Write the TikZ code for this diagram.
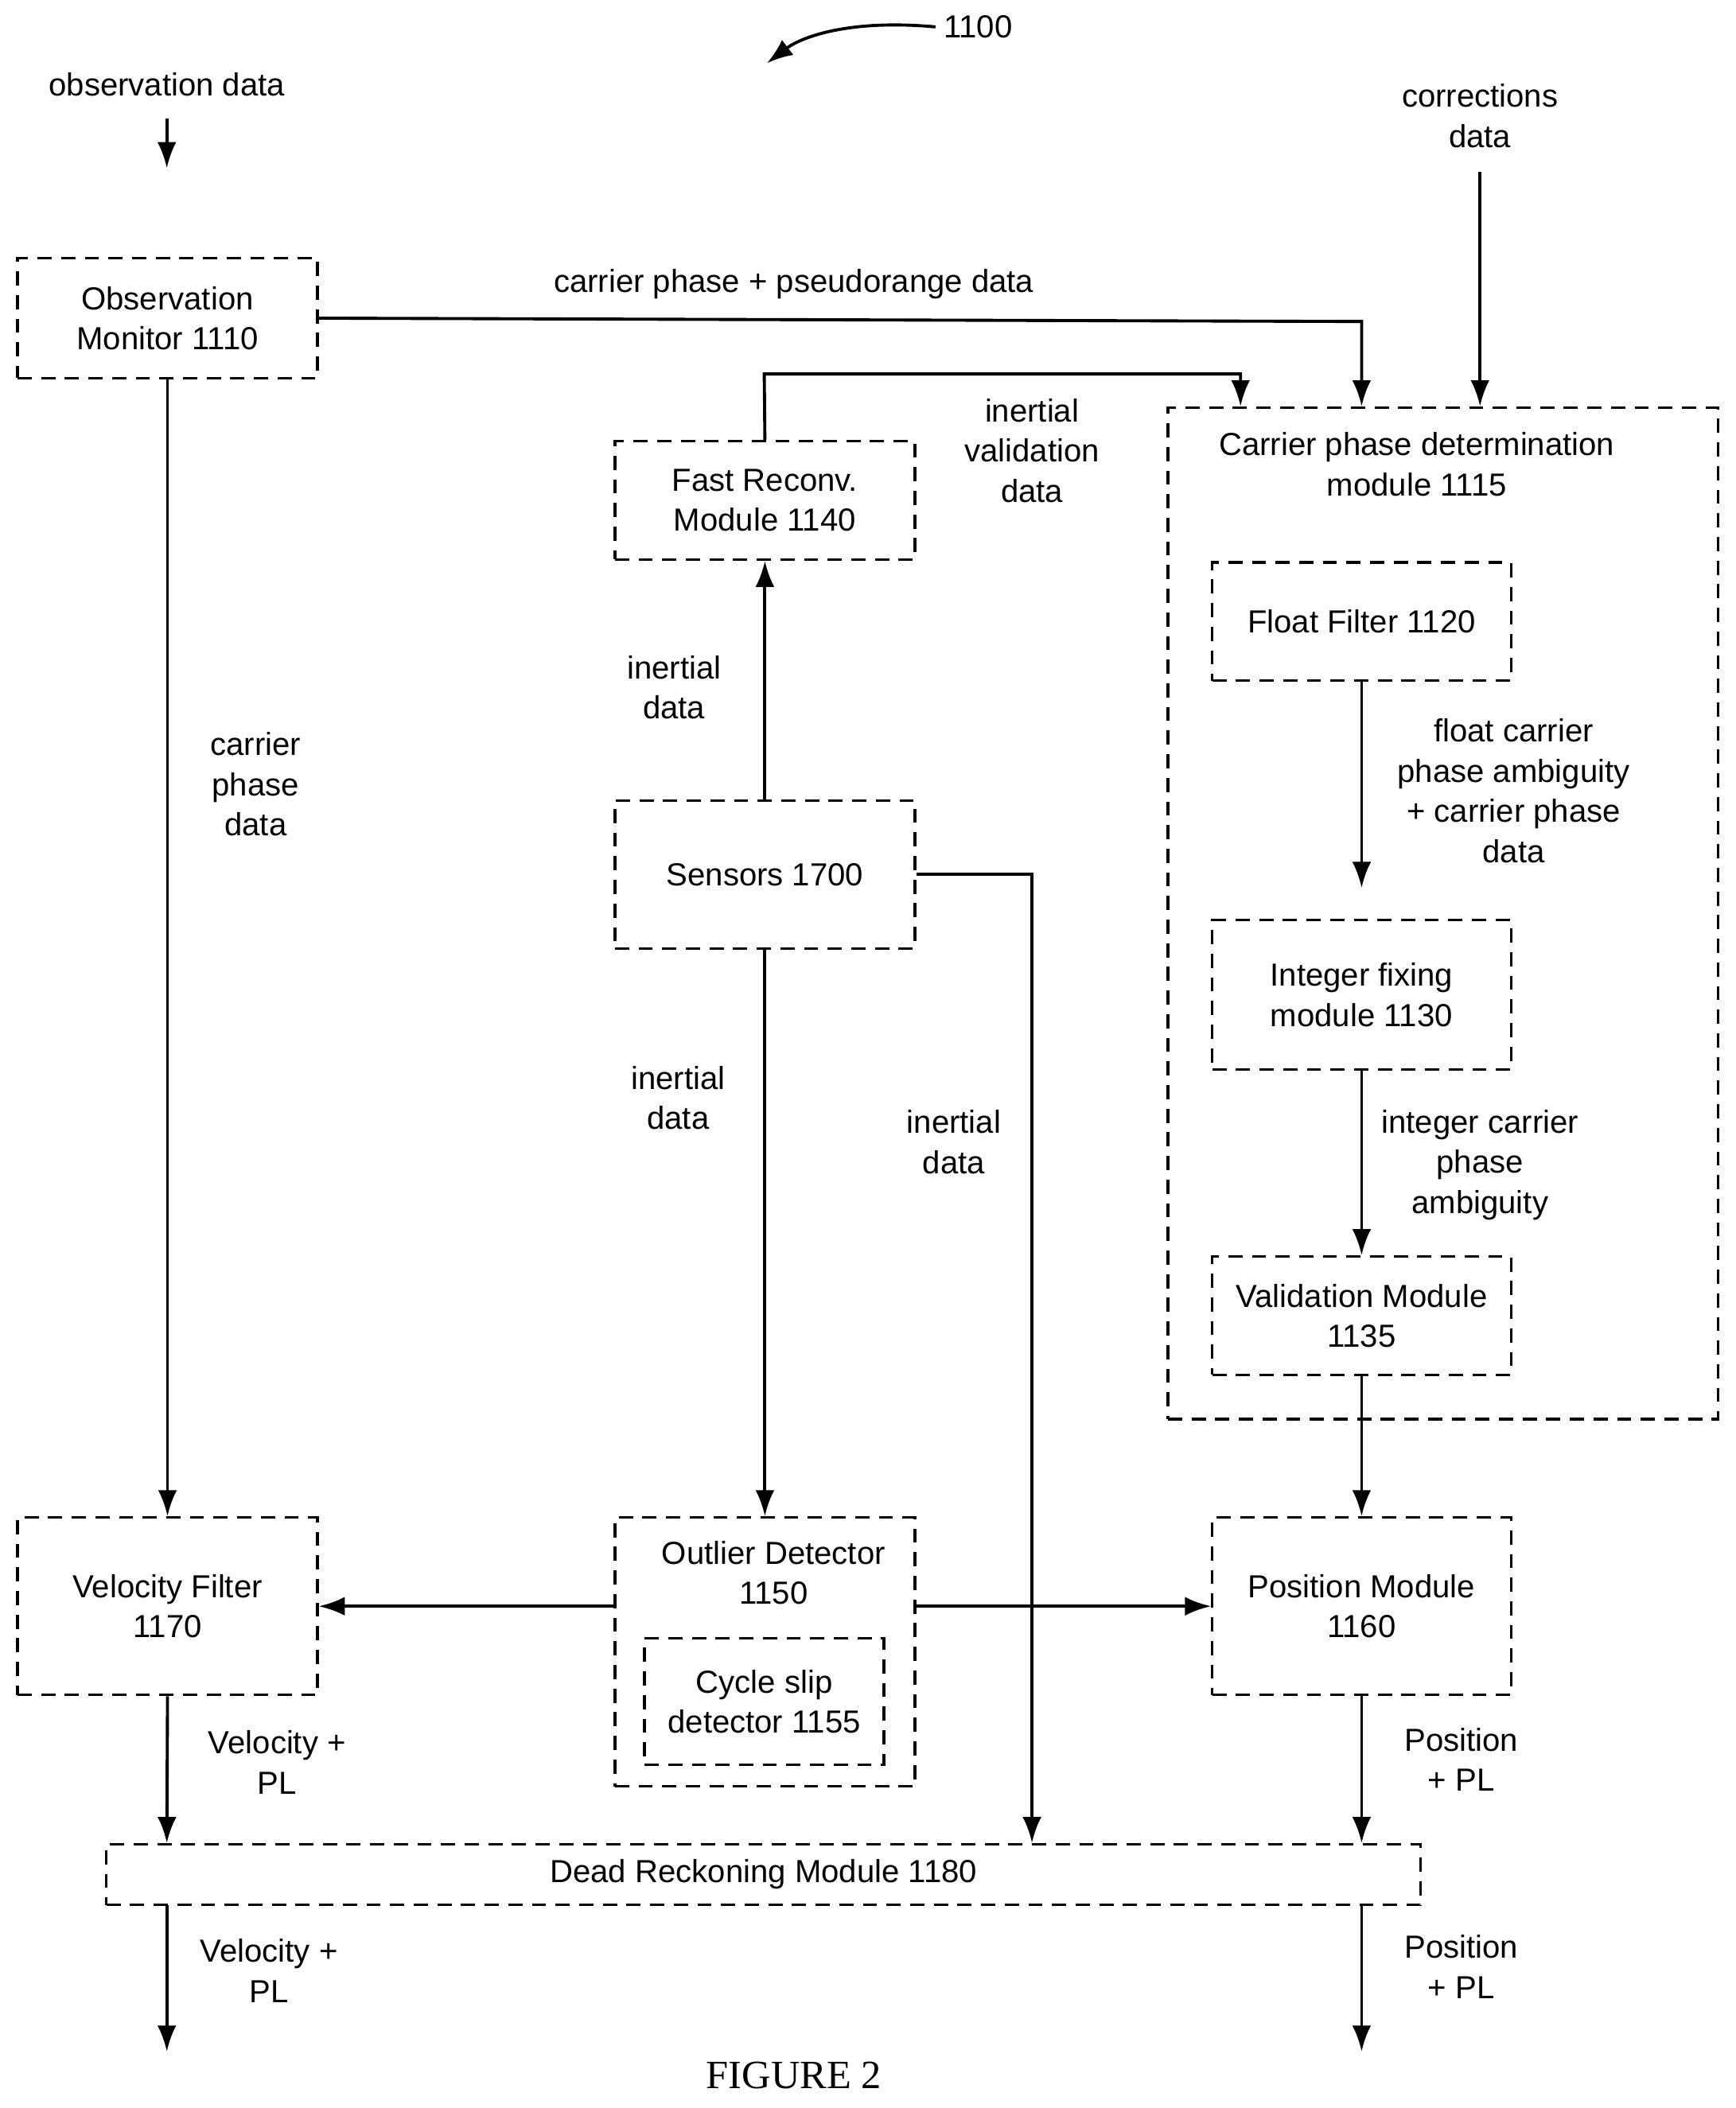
\documentclass[tikz,border=0pt]{standalone}
\usepackage{fontspec}
\setmainfont{Liberation Sans}
\usetikzlibrary{arrows.meta}
\begin{document}
\begin{tikzpicture}[x=0.02cm,y=-0.02cm,
	font=\fontsize{13.5}{17}\selectfont,
	box/.style={draw,dashed,dash pattern=on 6pt off 4pt,line width=1.1pt,align=center,inner sep=0pt},
	lbl/.style={align=center},
	flow/.style={-{Latex[length=11pt,width=8pt]},line width=1.3pt}]
	\useasboundingbox (0,0) rectangle (1290,1567);
	
	% outer module
	\node[box,minimum width=8.18cm,minimum height=15.04cm](cpd) at (1072.5,679){};
	\node[lbl](cpdt) at (1053,345){Carrier phase determination\\module 1115};
	
	\node[box,minimum width=4.46cm,minimum height=1.78cm](obs) at (124.5,236.5){Observation\\Monitor 1110};
	\node[box,minimum width=4.46cm,minimum height=1.76cm](fast) at (568.5,372){Fast Reconv.\\Module 1140};
	\node[box,minimum width=4.44cm,minimum height=1.76cm](float) at (1012,462){Float Filter 1120};
	\node[box,minimum width=4.44cm,minimum height=2.22cm](int) at (1012,739.5){Integer fixing\\module 1130};
	\node[box,minimum width=4.44cm,minimum height=1.76cm](valid) at (1012,978){Validation Module\\1135};
	\node[box,minimum width=4.46cm,minimum height=2.2cm](sens) at (568.5,650){Sensors 1700};
	\node[box,minimum width=4.46cm,minimum height=2.64cm](velo) at (124.5,1194){Velocity Filter\\1170};
	\node[box,minimum width=4.46cm,minimum height=4cm](outl) at (568.5,1228){};
	\node[lbl](outlt) at (575,1169){Outlier Detector\\1150};
	\node[box,minimum width=3.56cm,minimum height=1.88cm](slip) at (568,1265){Cycle slip\\detector 1155};
	\node[box,minimum width=4.44cm,minimum height=2.64cm](pos) at (1012,1194){Position Module\\1160};
	\node[box,minimum width=19.54cm,minimum height=0.9cm](dead) at (567.5,1393.5){Dead Reckoning Module 1180};
	
	% labels
	\node[lbl](ref) at (727,20){1100};
	\node[lbl](obsin) at (124,63){observation data};
	\node[lbl](corrin) at (1100,86){corrections\\data};
	\node[lbl] at (590,211){carrier phase + pseudorange data};
	\node[lbl] at (767,335){inertial\\validation\\data};
	\node[lbl] at (1125,588){float carrier\\phase ambiguity\\+ carrier phase\\data};
	\node[lbl] at (1100,866){integer carrier\\phase\\ambiguity};
	\node[lbl] at (501,511){inertial\\data};
	\node[lbl] at (504,816){inertial\\data};
	\node[lbl] at (709,849){inertial\\data};
	\node[lbl] at (190,583){carrier\\phase\\data};
	\node[lbl] at (206,1310){Velocity +\\PL};
	\node[lbl] at (1086,1308){Position\\+ PL};
	\node[lbl] at (200,1465){Velocity +\\PL};
	\node[lbl] at (1086,1462){Position\\+ PL};
	\node[font=\fontsize{17}{20}\selectfont\bfseries\rmfamily\setmainfont{Liberation Serif}] at (590,1543){FIGURE 2};
	
	% connectors
	\coordinate (velout) at (124,1525);
	\coordinate (posout) at (1012,1525);
	\draw[flow] (ref.west) .. controls (630,14) and (595,28) .. (570,47);
	\draw[flow] (obsin.south) ++(0,10) -- (124,125);
	\draw[flow] (corrin.south) ++(0,12) -- (1100,302);
	\draw[flow] (obs.east) -- (1012,239) -- (1012,302);
	\draw[flow] (fast.north) -- (568,278) -- (922,278) -- (922,302);
	\draw[flow] (float.south) -- (1012,660);
	\draw[flow] (int.south) -- (valid.north);
	\draw[flow] (valid.south) -- (pos.north);
	\draw[flow] (sens.north) -- (fast.south);
	\draw[flow] (sens.east) -- (767,650) -- (767,1370);
	\draw[flow] (sens.south) -- (outl.north);
	\draw[flow] (obs.south) -- (velo.north);
	\draw[flow] (outl.west |- velo.east) -- (velo.east);
	\draw[flow] (outl.east |- pos.west) -- (pos.west);
	\draw[flow] (velo.south) -- (124,1370);
	\draw[flow] (pos.south) -- (1012,1370);
	\draw[flow] (124,1416) -- (velout);
	\draw[flow] (1012,1416) -- (posout);
\end{tikzpicture}
\end{document}
